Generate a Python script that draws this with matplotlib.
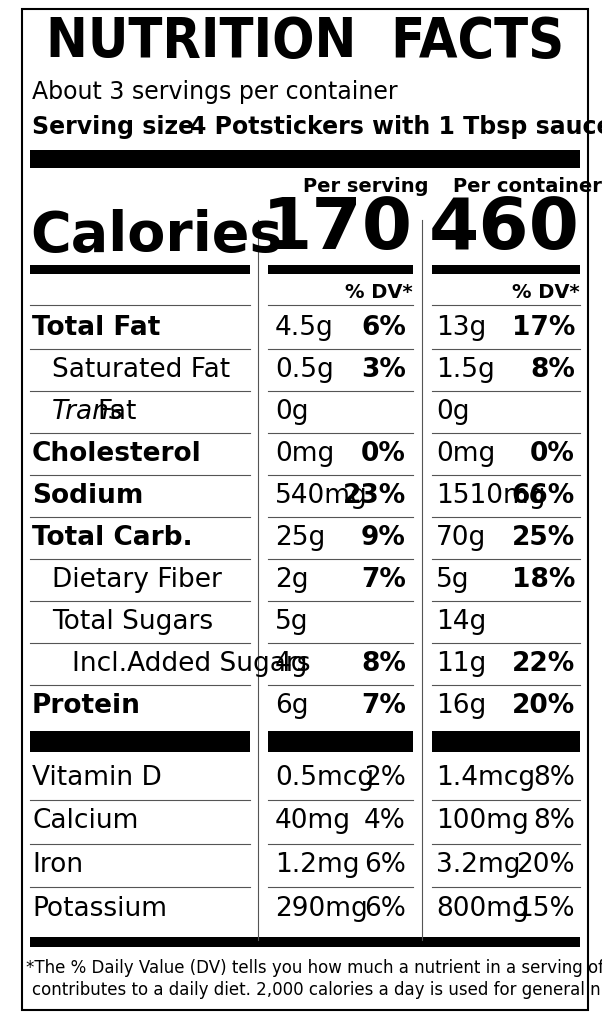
import matplotlib
matplotlib.use("Agg")
import matplotlib.pyplot as plt
from matplotlib.patches import Rectangle

plt.rcParams['font.family'] = ['Liberation Sans Narrow', 'DejaVu Sans']

''' Data '''
servings = "About 3 servings per container"
serving_size = "4 Potstickers with 1 Tbsp sauce (91g)"
cal_serving = "170"
cal_container = "460"

labels = ["Total Fat", "Saturated Fat", "Trans Fat", "Cholesterol", "Sodium",
          "Total Carb.", "Dietary Fiber", "Total Sugars", "Incl.Added Sugars", "Protein"]
indent = [0, 1, 1, 0, 0, 0, 1, 1, 2, 0]
bold_label = [True, False, False, True, True, True, False, False, False, True]
amt_serving = ["4.5g", "0.5g", "0g", "0mg", "540mg", "25g", "2g", "5g", "4g", "6g"]
dv_serving = ["6%", "3%", "", "0%", "23%", "9%", "7%", "", "8%", "7%"]
amt_container = ["13g", "1.5g", "0g", "0mg", "1510mg", "70g", "5g", "14g", "11g", "16g"]
dv_container = ["17%", "8%", "", "0%", "66%", "25%", "18%", "", "22%", "20%"]

vit_labels = ["Vitamin D", "Calcium", "Iron", "Potassium"]
vit_serving = ["0.5mcg", "40mg", "1.2mg", "290mg"]
vit_dv_serving = ["2%", "4%", "6%", "6%"]
vit_container = ["1.4mcg", "100mg", "3.2mg", "800mg"]
vit_dv_container = ["8%", "8%", "20%", "15%"]

footnote = ["*The % Daily Value (DV) tells you how much a nutrient in a serving of food",
            "contributes to a daily diet. 2,000 calories a day is used for general nutrition advice."]

''' Figure '''
fig = plt.figure(figsize=(6.02, 10.24), dpi=100)
ax = fig.add_axes([0, 0, 1, 1])
ax.set_xlim(0, 602)
ax.set_ylim(1024, 0)
ax.axis("off")

ax.add_patch(Rectangle((22, 9), 566, 1001, fill=False, lw=1.5, ec="black"))


def bar(x0, x1, y0, y1):
    ax.add_patch(Rectangle((x0, y0), x1 - x0, y1 - y0, color="black", lw=0))


def hline(y, x0, x1, lw=0.8):
    ax.plot([x0, x1], [y, y], color="#555555", lw=lw)


ax.text(305, 42, "NUTRITION  FACTS", ha="center", va="center", fontsize=40,
        fontweight="bold", family=["DejaVu Sans"], fontstretch="condensed")
ax.text(32, 92, servings, fontsize=17, va="center")
ax.text(32, 127, "Serving size", fontsize=17, va="center", fontweight="bold")
ax.text(190, 127, serving_size, fontsize=17, va="center", fontweight="bold")
bar(30, 580, 150, 168)

ax.text(366, 186, "Per serving", fontsize=14, ha="center", va="center", fontweight="bold")
ax.text(527, 186, "Per container", fontsize=14, ha="center", va="center", fontweight="bold")
ax.text(30, 236, "Calories", fontsize=40, va="center", fontweight="bold")
ax.text(413, 230, cal_serving, fontsize=52, ha="right", va="center", fontweight="bold")
ax.text(580, 230, cal_container, fontsize=52, ha="right", va="center", fontweight="bold")
bar(30, 250, 265, 274)
bar(268, 413, 265, 274)
bar(432, 580, 265, 274)

ax.plot([258, 258], [220, 940], color="#555555", lw=0.8)
ax.plot([422, 422], [220, 940], color="#555555", lw=0.8)

ax.text(413, 292, "% DV*", fontsize=14, ha="right", va="center", fontweight="bold")
ax.text(580, 292, "% DV*", fontsize=14, ha="right", va="center", fontweight="bold")
hline(305, 30, 250)
hline(305, 268, 413)
hline(305, 432, 580)

fs = 19
for i, lab in enumerate(labels):
    y = 328 + i * 42
    x = 32 + indent[i] * 20
    w = "bold" if bold_label[i] else "normal"
    if lab == "Trans Fat":
        ax.text(x, y, "Trans", fontsize=fs, va="center", style="italic")
        ax.text(x + 45, y, "Fat", fontsize=fs, va="center")
    else:
        ax.text(x, y, lab, fontsize=fs, va="center", fontweight=w)
    ax.text(275, y, amt_serving[i], fontsize=fs, va="center")
    ax.text(406, y, dv_serving[i], fontsize=fs, va="center", ha="right", fontweight="bold")
    ax.text(436, y, amt_container[i], fontsize=fs, va="center")
    ax.text(575, y, dv_container[i], fontsize=fs, va="center", ha="right", fontweight="bold")
    if i < len(labels) - 1:
        hline(y + 21, 30, 250)
        hline(y + 21, 268, 413)
        hline(y + 21, 432, 580)

bar(30, 250, 731, 752)
bar(268, 413, 731, 752)
bar(432, 580, 731, 752)

for i, lab in enumerate(vit_labels):
    y = 778 + i * 43.5
    ax.text(32, y, lab, fontsize=fs, va="center")
    ax.text(275, y, vit_serving[i], fontsize=fs, va="center")
    ax.text(406, y, vit_dv_serving[i], fontsize=fs, va="center", ha="right")
    ax.text(436, y, vit_container[i], fontsize=fs, va="center")
    ax.text(575, y, vit_dv_container[i], fontsize=fs, va="center", ha="right")
    if i < len(vit_labels) - 1:
        hline(y + 22, 30, 250)
        hline(y + 22, 268, 413)
        hline(y + 22, 432, 580)

bar(30, 580, 937, 947)

ax.text(26, 968, footnote[0], fontsize=12, va="center")
ax.text(32, 990, footnote[1], fontsize=12, va="center")

fig.savefig("out.png", dpi=100)
